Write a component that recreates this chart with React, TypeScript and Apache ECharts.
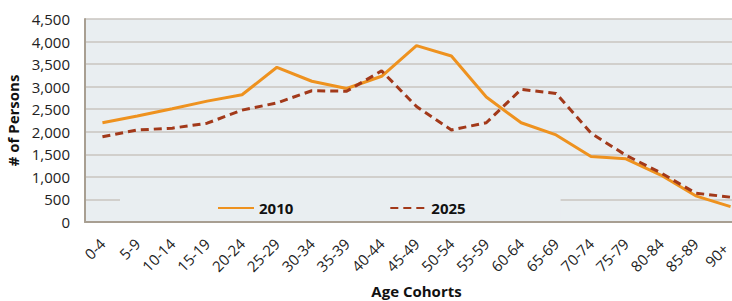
import React, { useEffect, useRef } from "react";
import * as echarts from "echarts";

const categories = ["0-4","5-9","10-14","15-19","20-24","25-29","30-34","35-39","40-44","45-49","50-54","55-59","60-64","65-69","70-74","75-79","80-84","85-89","90+"];
const series2010 = [2200,2350,2510,2680,2820,3430,3120,2960,3230,3910,3680,2770,2200,1930,1450,1400,1040,580,340];
const series2025 = [1890,2040,2080,2190,2480,2640,2910,2900,3350,2560,2040,2200,2940,2850,1970,1480,1090,640,550];
const yTicks = { min: 0, max: 4500, interval: 500 };

const FONT = "'Open Sans', 'Noto Sans', sans-serif";
const PLOT_BG = "#E9EEF1";

export default function App() {
  const ref = useRef<HTMLDivElement>(null);
  useEffect(() => {
    if (!ref.current) return;
    const chart = echarts.init(ref.current, null, { renderer: "svg" });
    const xData = categories.map((c, i) =>
      i === categories.length - 1 ? { value: c, textStyle: { padding: [0, 7, 0, 0] } } : c
    );
    chart.setOption({
      animation: false,
      textStyle: { fontFamily: FONT },
      grid: {
        left: 85, top: 19, bottom: 79, right: -16,
        outerBoundsMode: "none",
        containLabel: false,
        show: true, backgroundColor: PLOT_BG, borderWidth: 0,
      },
      legend: {
        left: 120, top: 197,
        padding: [3, 95, 3, 97],
        backgroundColor: PLOT_BG,
        itemWidth: 36, itemHeight: 14, itemGap: 96,
        itemStyle: { opacity: 0 },
        textStyle: { fontFamily: FONT, fontSize: 15, fontWeight: "bold", color: "#111", lineHeight: 16 },
        data: ["2010", "2025"],
      },
      xAxis: {
        type: "category",
        data: xData,
        boundaryGap: true,
        name: "Age Cohorts",
        nameLocation: "middle",
        nameGap: 61,
        nameTextStyle: { fontFamily: FONT, fontSize: 15, fontWeight: "bold", color: "#111" },
        axisLine: { show: true, lineStyle: { color: "#A89F92", width: 2 } },
        axisTick: { show: false },
        axisLabel: { rotate: 45, interval: 0, margin: 19, fontFamily: FONT, fontSize: 15, color: "#222" },
      },
      yAxis: {
        type: "value",
        min: yTicks.min, max: yTicks.max, interval: yTicks.interval,
        name: "# of Persons",
        nameLocation: "middle",
        nameGap: 60,
        nameTextStyle: { fontFamily: FONT, fontSize: 15, fontWeight: "bold", color: "#111" },
        axisLine: { show: true, lineStyle: { color: "#A89F92", width: 2 } },
        axisTick: { show: false },
        axisLabel: {
          margin: 15, fontFamily: FONT, fontSize: 15, color: "#222",
          formatter: (v: number) => v.toLocaleString("en-US"),
        },
        splitLine: { show: true, lineStyle: { color: "#C9C5BF", width: 1.5 } },
      },
      series: [
        {
          name: "2010", type: "line", data: series2010, symbol: "none",
          lineStyle: { color: "#EE921F", width: 3 }, itemStyle: { color: "#EE921F" },
        },
        {
          name: "2025", type: "line", data: series2025, symbol: "none",
          lineStyle: { color: "#A2391A", width: 3, type: [8, 5] }, itemStyle: { color: "#A2391A" },
        },
      ],
    });
    return () => chart.dispose();
  }, []);
  return <div ref={ref} style={{ width: 732, height: 301, position: "absolute", left: 0, top: 0 }} />;
}
